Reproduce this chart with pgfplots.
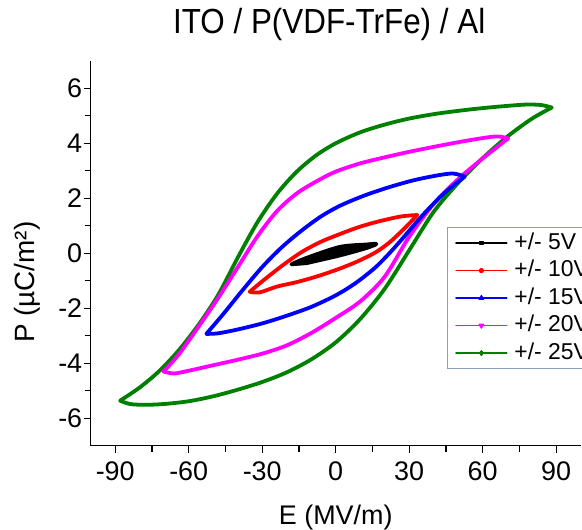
\documentclass[border=0pt]{standalone}
\usepackage{fontspec}
\setmainfont{Liberation Sans}
\newfontfamily\titlefont[FakeStretch=0.9]{Liberation Sans}
\usepackage{pgfplots}
\pgfplotsset{compat=1.18}
\definecolor{lgborder}{RGB}{140,158,186}
\definecolor{dgreen}{RGB}{0,128,0}
\definecolor{mag}{RGB}{255,0,255}
\definecolor{pred}{RGB}{255,0,0}
\definecolor{pblue}{RGB}{0,0,255}
\begin{document}
\begin{tikzpicture}
\begin{axis}[
  at={(0,0)}, anchor=south west,
  scale only axis, width=490bp, height=385bp,
  xmin=-100, xmax=100, ymin=-7, ymax=7,
  axis x line*=bottom, axis y line*=left,
  axis line style={-, line width=1.3bp},
  xtick={-90,-60,...,90}, ytick={-6,-4,...,6},
  minor x tick num=1, minor y tick num=1,
  tick align=outside,
  major tick length=7bp, minor tick length=6bp,
  tick style={black, line width=1.3bp},
  /pgf/number format/assume math mode=true,
  ticklabel style={font=\fontsize{27}{30}\selectfont},
  xticklabel style={yshift=-5bp},
  yticklabel style={xshift=2bp},
  title={\titlefont ITO / P(VDF-TrFe) / Al},
  title style={at={(0.4867,1.0558)}, anchor=base, font=\fontsize{35}{40}\selectfont},
  xlabel={E (MV/m)},
  xlabel style={at={(axis description cs:0.5,-0.2035)}, anchor=base, font=\fontsize{27}{30}\selectfont},
  ylabel={P (µC/m²)},
  ylabel style={at={(axis description cs:-0.13,0.425)}, anchor=center, font=\fontsize{28}{30}\selectfont},
  legend image code/.code={\draw[mark repeat=2,mark phase=2] plot coordinates {(0bp,0bp) (25.5bp,0bp) (51bp,0bp)};},
  legend cell align=left,
  legend style={at={(axis description cs:0.7265,0.569)}, anchor=north west,
    draw=lgborder, line width=1.2bp, fill=white,
    font=\fontsize{23}{26}\selectfont,
    inner xsep=8bp, inner ysep=5bp, column sep=7bp, row sep=6bp,
    nodes={inner sep=0bp, text height=17bp, text depth=4.5bp}},
  every axis plot/.append style={line width=3.8bp, line join=round, line cap=round},
]
\addlegendimage{black, line width=1.2bp, mark=square*, mark size=1.7bp}
\addlegendentry{+/- 5V}
\addlegendimage{pred, line width=1.2bp, mark=*, mark size=2bp}
\addlegendentry{+/- 10V}
\addlegendimage{pblue, line width=1.2bp, mark=triangle*, mark size=2.6bp}
\addlegendentry{+/- 15V}
\addlegendimage{mag, line width=1.2bp, mark=triangle*, mark size=2.6bp, mark options={rotate=180}}
\addlegendentry{+/- 20V}
\addlegendimage{dgreen, line width=1.2bp, mark=diamond*, mark size=2.4bp}
\addlegendentry{+/- 25V}

% +/- 25V
\addplot[dgreen, smooth, forget plot] coordinates {(-88,-5.36) (-80,-4.88) (-72,-4.28) (-64,-3.52) (-56,-2.60) (-48,-1.52) (-40,-0.16) (-32,1.12) (-24,2.16) (-16,2.96) (-8,3.56) (0,4.0) (10,4.4) (20,4.68) (30,4.9) (40,5.06) (50,5.18) (60,5.28) (70,5.36) (78,5.41) (84,5.39) (88.2,5.3)};
\addplot[dgreen, smooth, forget plot] coordinates {(88.2,5.3) (80,4.89) (70,4.24) (60,3.46) (50,2.56) (40,1.51) (30,0.11) (20,-1.29) (10,-2.39) (0,-3.24) (-10,-3.86) (-20,-4.33) (-30,-4.68) (-40,-4.96) (-50,-5.2) (-60,-5.38) (-70,-5.48) (-78,-5.51) (-84,-5.48) (-88,-5.36)};
% +/- 20V
\addplot[mag, smooth, forget plot] coordinates {(-70.3,-4.3) (-64,-3.67) (-56,-2.67) (-48,-1.63) (-40,-0.51) (-32,0.61) (-24,1.53) (-16,2.17) (-8,2.61) (0,2.97) (10,3.27) (20,3.49) (30,3.69) (40,3.87) (50,4.04) (60,4.19) (66,4.25) (70.4,4.18)};
\addplot[mag, smooth, forget plot] coordinates {(70.4,4.18) (66,3.87) (60,3.45) (50,2.7) (40,1.8) (30,0.6) (20,-0.85) (10,-1.75) (0,-2.35) (-10,-2.9) (-20,-3.35) (-30,-3.65) (-40,-3.87) (-50,-4.07) (-60,-4.27) (-66,-4.37) (-70.3,-4.3)};
% +/- 15V
\addplot[pblue, smooth, forget plot] coordinates {(-52.8,-2.93) (-46,-2.22) (-38,-1.34) (-30,-0.5) (-22,0.22) (-14,0.82) (-6,1.34) (2,1.74) (12,2.11) (22,2.41) (32,2.66) (42,2.84) (48,2.9) (52.7,2.79)};
\addplot[pblue, smooth, forget plot] coordinates {(52.7,2.79) (46,2.32) (40,1.81) (34,1.24) (28,0.61) (22,0.01) (16,-0.53) (8,-1.09) (0,-1.53) (-10,-1.95) (-20,-2.27) (-30,-2.55) (-40,-2.77) (-48,-2.91) (-52.8,-2.93)};
% +/- 10V
\addplot[pred, smooth, forget plot] coordinates {(-35.1,-1.40) (-30,-1.02) (-22,-0.46) (-14,0.04) (-6,0.42) (2,0.71) (10,0.97) (18,1.17) (26,1.33) (31,1.38) (33.3,1.39)};
\addplot[pred, smooth, forget plot] coordinates {(33.3,1.39) (28,0.9) (22,0.4) (16,0.02) (8,-0.33) (0,-0.61) (-8,-0.85) (-16,-1.05) (-24,-1.21) (-31,-1.42) (-35.1,-1.40)};
% +/- 5V
\addplot[black, fill=black, smooth, forget plot] coordinates {(-18.1,-0.40) (-12,-0.17) (1.6,0.23) (12.5,0.32) (16.6,0.34) (12.5,0.19) (1.6,-0.08) (-12,-0.36)} -- cycle;
\end{axis}
\pgfresetboundingbox
\path[use as bounding box] (-90.7bp,-84.2bp) rectangle (491.3bp,445.8bp);
\end{tikzpicture}
\end{document}
